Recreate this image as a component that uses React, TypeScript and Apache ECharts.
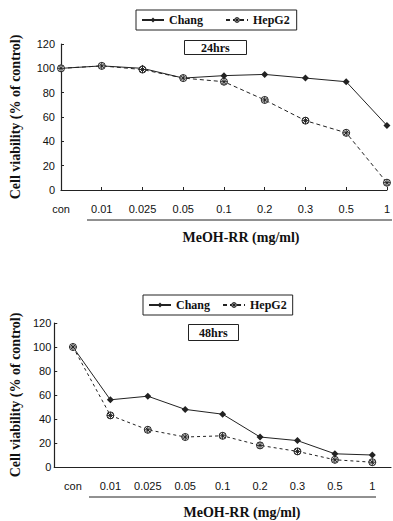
import React, { useEffect, useRef } from "react";
import * as echarts from "echarts";

const categories = ["con", "0.01", "0.025", "0.05", "0.1", "0.2", "0.3", "0.5", "1"];
const yTicks = { min: 0, max: 120, interval: 20 };

const chang24 = [100, 102, 100, 92, 94, 95, 92, 89, 53];
const hepg224 = [100, 102, 99, 92, 89, 74, 57, 47, 6];
const chang48 = [100, 56, 59, 48, 44, 25, 22, 11, 10];
const hepg248 = [100, 43, 31, 25, 26, 18, 13, 6, 4];

const title24 = "24hrs";
const title48 = "48hrs";
const yName = "Cell viability (% of control)";
const xName = "MeOH-RR (mg/ml)";

const INK = "#222";
const SERIF = "'Liberation Serif', 'DejaVu Serif', serif";
const SANS = "'Liberation Sans', Arial, sans-serif";
const STAR =
  "path://M5,0A5,5,0,1,1,5,10A5,5,0,1,1,5,0ZM1.6,1.6L8.4,8.4M8.4,1.6L1.6,8.4M5,0L5,10M0,5L10,5";

export default function App() {
  const ref = useRef<HTMLDivElement>(null);
  useEffect(() => {
    if (!ref.current) return;
    const chart = echarts.init(ref.current, null, { renderer: "svg" });
    const xAxisBase = (gridIndex: number, boundaryGap: boolean) => ({
      type: "category",
      gridIndex,
      data: categories,
      boundaryGap,
      axisLine: { lineStyle: { color: INK, width: 1.2 } },
      axisTick: { inside: true, length: 3, lineStyle: { color: INK } },
      axisLabel: { color: "#111", fontFamily: SANS, fontSize: 11, margin: 13, interval: 0 },
    });
    const yAxisBase = (gridIndex: number, nameGap: number, margin: number) => ({
      type: "value",
      gridIndex,
      ...yTicks,
      name: yName,
      nameLocation: "middle",
      nameRotate: 90,
      nameGap,
      nameTextStyle: { fontFamily: SERIF, fontWeight: "bold", fontSize: 14, color: "#111" },
      axisLine: { show: true, lineStyle: { color: INK, width: 1.2 } },
      axisTick: { show: true, inside: true, length: 3, lineStyle: { color: INK } },
      axisLabel: { color: "#111", fontFamily: SANS, fontSize: 11, margin },
      splitLine: { show: false },
    });
    const changSeries = (xi: number, data: number[]) => ({
      name: "Chang",
      type: "line",
      xAxisIndex: xi,
      yAxisIndex: xi,
      data,
      symbol: "diamond",
      symbolSize: 7,
      itemStyle: { color: INK },
      lineStyle: { color: INK, width: 1 },
    });
    const hepSeries = (xi: number, data: number[], dash: number[]) => ({
      name: "HepG2",
      type: "line",
      xAxisIndex: xi,
      yAxisIndex: xi,
      data,
      symbol: STAR,
      symbolSize: 7,
      itemStyle: { color: "#fff", borderColor: INK, borderWidth: 1 },
      lineStyle: { color: INK, width: 1, type: dash },
    });
    const legendBase = (left: number, top: number, gap: number, padRight: number) => ({
      data: [
        { name: "Chang" },
        { name: "HepG2", itemStyle: { color: "#fff", borderColor: INK, borderWidth: 1 } },
      ],
      left,
      top,
      orient: "horizontal",
      borderColor: INK,
      borderWidth: 1,
      padding: [4, padRight, 4, 5],
      itemWidth: 22,
      itemHeight: 6,
      itemGap: gap,
      selectedMode: false,
      textStyle: { fontFamily: SERIF, fontWeight: "bold", fontSize: 12, color: "#111" },
    });
    const titleBase = (text: string, left: number, top: number, pad: number[]) => ({
      text,
      left,
      top,
      borderColor: INK,
      borderWidth: 1,
      padding: pad,
      textStyle: { fontFamily: SERIF, fontWeight: "bold", fontSize: 12, color: "#111", lineHeight: 13 },
    });
    chart.setOption({
      animation: false,
      backgroundColor: "#fff",
      title: [titleBase(title24, 184, 40, [1, 17]), titleBase(title48, 188, 324, [2, 11])],
      legend: [legendBase(136, 10, 22, 7), legendBase(143, 295, 12, 6)],
      grid: [
        { left: 56, top: 44, width: 334, height: 146 },
        { left: 49, top: 323, width: 342, height: 144 },
      ],
      xAxis: [xAxisBase(0, false), xAxisBase(1, true)],
      yAxis: [yAxisBase(0, 39, 6), yAxisBase(1, 32, 3)],
      series: [
        changSeries(0, chang24),
        hepSeries(0, hepg224, [4, 3]),
        changSeries(1, chang48),
        hepSeries(1, hepg248, [3, 3]),
      ],
      graphic: [
        { type: "line", shape: { x1: 87, y1: 220, x2: 392, y2: 220 }, style: { stroke: INK, lineWidth: 1 } },
        { type: "line", shape: { x1: 89, y1: 497, x2: 376, y2: 497 }, style: { stroke: INK, lineWidth: 1 } },
        {
          type: "text",
          x: 241,
          y: 237,
          style: { text: xName, font: `bold 14px ${SERIF}`, fill: "#111", align: "center", verticalAlign: "middle" },
        },
        {
          type: "text",
          x: 242,
          y: 512,
          style: { text: xName, font: `bold 14px ${SERIF}`, fill: "#111", align: "center", verticalAlign: "middle" },
        },
      ],
    });
    return () => chart.dispose();
  }, []);
  return (
    <div
      ref={ref}
      style={{ position: "fixed", left: 0, top: 0, width: 393, height: 521, background: "#fff" }}
    />
  );
}
